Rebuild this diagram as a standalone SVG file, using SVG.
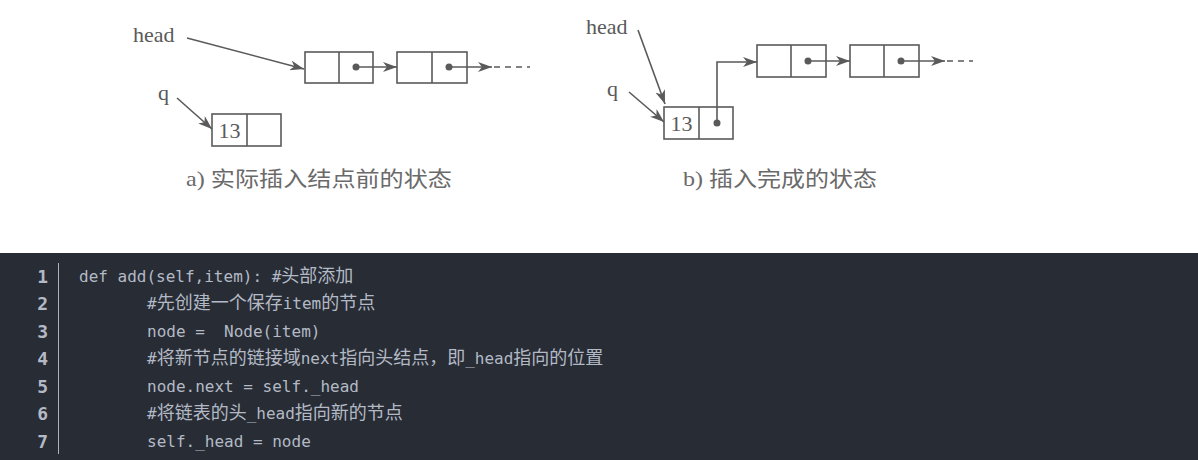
<svg xmlns="http://www.w3.org/2000/svg" width="1198" height="460" viewBox="0 0 1198 460">
<defs>
<marker id="ah" viewBox="0 0 14 10" refX="14" refY="5" markerWidth="14" markerHeight="10" markerUnits="userSpaceOnUse" orient="auto">
<path d="M0,0 L14,5 L0,10 L4,5 Z" fill="#5a5a5a"/>
</marker>
<style>
.box{fill:none;stroke:#5a5a5a;stroke-width:1.6}
.ln{fill:none;stroke:#5a5a5a;stroke-width:1.6}
.dot{fill:#5a5a5a}
.lbl{font-family:"Liberation Serif","Noto Sans CJK SC",serif;font-size:22px;fill:#5a5a5a}
.cap{font-family:"Liberation Serif","Noto Sans CJK SC",serif;font-size:21px;fill:#6a6a6a}
.code{font-family:"DejaVu Sans Mono","Noto Sans CJK SC",monospace;font-size:16px;fill:#b3bac6}
.cj{font-family:"Noto Sans CJK SC",sans-serif;font-size:18px}
.num{font-family:"DejaVu Sans Mono",monospace;font-size:18px;fill:#b3bac6;text-anchor:end;font-weight:bold}
</style>
</defs>
<rect x="0" y="0" width="1198" height="460" fill="#ffffff"/>

<g id="diagram-a">
<text class="lbl" x="133" y="42">head</text>
<text class="lbl" x="158" y="100">q</text>
<g id="a-node1"><rect class="box" x="305" y="52" width="68" height="31"/><line class="box" x1="339" y1="52" x2="339" y2="83"/><circle class="dot" cx="356" cy="67" r="3.5"/></g>
<g id="a-node2"><rect class="box" x="397" y="52" width="70" height="31"/><line class="box" x1="432" y1="52" x2="432" y2="83"/><circle class="dot" cx="449" cy="67" r="3.5"/></g>
<g id="a-q"><rect class="box" x="212" y="114" width="69" height="32"/><line class="box" x1="247" y1="114" x2="247" y2="146"/><text class="lbl" x="229.5" y="138" text-anchor="middle">13</text></g>
</g>

<g id="diagram-b">
<text class="lbl" x="586" y="34">head</text>
<text class="lbl" x="607" y="96">q</text>
<g id="b-q"><rect class="box" x="664" y="107" width="69" height="32"/><line class="box" x1="699" y1="107" x2="699" y2="139"/><text class="lbl" x="681.5" y="131" text-anchor="middle">13</text><circle class="dot" cx="717" cy="123" r="3.5"/></g>
<g id="b-node1"><rect class="box" x="757" y="45" width="69" height="32"/><line class="box" x1="791" y1="45" x2="791" y2="77"/><circle class="dot" cx="808" cy="61" r="3.5"/></g>
<g id="b-node2"><rect class="box" x="850" y="45" width="69" height="32"/><line class="box" x1="884" y1="45" x2="884" y2="77"/><circle class="dot" cx="901" cy="61" r="3.5"/></g>
</g>

<g id="connectors">
<line class="ln" x1="187" y1="38" x2="304" y2="69" marker-end="url(#ah)"/>
<line class="ln" x1="356" y1="67" x2="397" y2="67" marker-end="url(#ah)"/>
<line class="ln" x1="449" y1="67" x2="492" y2="67" marker-end="url(#ah)"/>
<line class="ln" x1="494" y1="67" x2="530" y2="67" stroke-dasharray="6,5"/>
<line class="ln" x1="177" y1="98" x2="212" y2="129" marker-end="url(#ah)"/>

<line class="ln" x1="638" y1="30" x2="665" y2="104" marker-end="url(#ah)"/>
<line class="ln" x1="629" y1="92" x2="664" y2="122" marker-end="url(#ah)"/>
<polyline class="ln" points="717,123 717,62 757,62" marker-end="url(#ah)"/>
<line class="ln" x1="808" y1="61" x2="850" y2="61" marker-end="url(#ah)"/>
<line class="ln" x1="901" y1="61" x2="945" y2="61" marker-end="url(#ah)"/>
<line class="ln" x1="947" y1="61" x2="973" y2="61" stroke-dasharray="6,5"/>
</g>

<g id="captions">
<text class="cap" x="186" y="186" textLength="266" lengthAdjust="spacingAndGlyphs">a) 实际插入结点前的状态</text>
<text class="cap" x="683" y="186" textLength="194" lengthAdjust="spacingAndGlyphs">b) 插入完成的状态</text>
</g>

<g id="code-panel">
<rect x="0" y="253" width="1198" height="207" fill="#282c34"/>
<line x1="58.5" y1="263" x2="58.5" y2="454" stroke="#abb2bf" stroke-width="1"/>
<text class="num" x="48" y="283">1</text>
<text class="num" x="48" y="310">2</text>
<text class="num" x="48" y="338">3</text>
<text class="num" x="48" y="365">4</text>
<text class="num" x="48" y="393">5</text>
<text class="num" x="48" y="420">6</text>
<text class="num" x="48" y="448">7</text>
<text class="code" x="79" y="282">def add(self,item): #<tspan class="cj">头部添加</tspan></text>
<text class="code" x="147" y="309">#<tspan class="cj">先创建一个保存</tspan>item<tspan class="cj">的节点</tspan></text>
<text class="code" x="147" y="337" xml:space="preserve">node =  Node(item)</text>
<text class="code" x="147" y="364">#<tspan class="cj">将新节点的链接域</tspan>next<tspan class="cj">指向头结点，即</tspan>_head<tspan class="cj">指向的位置</tspan></text>
<text class="code" x="147" y="392">node.next = self._head</text>
<text class="code" x="147" y="419">#<tspan class="cj">将链表的头</tspan>_head<tspan class="cj">指向新的节点</tspan></text>
<text class="code" x="147" y="447">self._head = node</text>
</g>
</svg>
